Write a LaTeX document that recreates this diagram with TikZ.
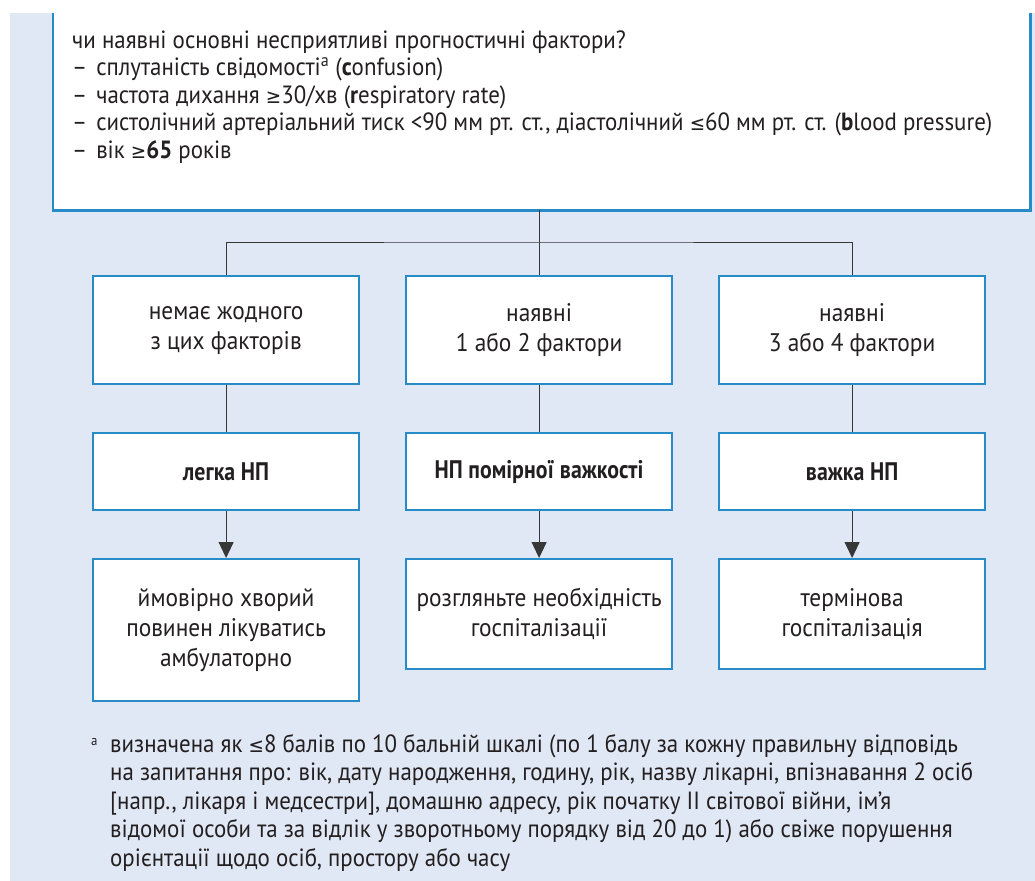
\documentclass[tikz,border=0pt]{standalone}
\usepackage{fontspec}
\setmainfont{PT Sans}[FakeStretch=0.92]
\newfontfamily\bbx{PT Sans}[FakeStretch=0.86]
\newfontfamily\symf{DejaVu Sans}[FakeStretch=0.92]
\usetikzlibrary{arrows.meta}
\definecolor{panelc}{RGB}{225,232,245}
\definecolor{bordc}{RGB}{38,139,199}
\definecolor{txt}{RGB}{35,31,32}
\definecolor{linec}{RGB}{55,55,55}
\newcommand{\mainf}{\fontsize{25}{27}\selectfont}
\newcommand{\boxf}{\fontsize{25.5}{30}\selectfont}
\newcommand{\mge}{{\symf\fontsize{20}{20}\selectfont ≥}}
\newcommand{\mle}{{\symf\fontsize{20}{20}\selectfont ≤}}
\tikzset{
  x=1bp, y=-1bp,
  box/.style={draw=bordc, line width=2.2bp, fill=white, minimum width=266bp,
    inner sep=0pt, align=center, font=\boxf, text=txt, anchor=north west},
  boldbox/.style={box, font=\boxf\bbx\bfseries},
  conn/.style={draw=linec, line width=1bp},
  arr/.style={conn, -{Triangle[width=15bp,length=16bp]}},
  lbl/.style={anchor=base west, inner sep=0pt, font=\mainf, text=txt},
}
\begin{document}
\begin{tikzpicture}
\useasboundingbox (0,0) rectangle (1035,881);
\fill[panelc] (10,13) rectangle (1035,881);
% top question box (open at the top)
\node[fill=white, inner sep=0pt, minimum width=977bp, minimum height=197bp, anchor=north west] (top) at (53,13) {};
\draw[draw=bordc, line width=2.2bp] (top.north west) -- (top.south west) -- (top.south east) -- (top.north east);
\node[lbl] (q1) at (72,48) {чи наявні основні несприятливі прогностичні фактори?};
\node[lbl] (q2) at (72,75.5) {–\hspace{9bp}сплутаність свідомості\textsuperscript{a} (\textbf{c}onfusion)};
\node[lbl] (q3) at (72,103) {–\hspace{9bp}частота дихання \mge30/хв (\textbf{r}espiratory rate)};
\node[lbl] (q4) at (72,130.5) {–\hspace{9bp}систолічний артеріальний тиск <90 мм рт. ст., діастолічний \mle60 мм рт. ст. (\textbf{b}lood pressure)};
\node[lbl] (q5) at (72,158) {–\hspace{9bp}вік \mge\textbf{65} років};
% row 1
\node[box, minimum height=108bp] (r1a) at (92,275) {немає жодного\\з цих факторів};
\node[box, minimum height=108bp] (r1b) at (405,275) {наявні\\1 або 2 фактори};
\node[box, minimum height=108bp] (r1c) at (718,275) {наявні\\3 або 4 фактори};
% row 2
\node[boldbox, minimum height=77bp] (r2a) at (92,432) {легка НП};
\node[boldbox, minimum height=77bp] (r2b) at (405,432) {НП помірної важкості};
\node[boldbox, minimum height=77bp] (r2c) at (718,432) {важка НП};
% row 3
\node[box, minimum height=142bp] (r3a) at (92,558) {ймовірно хворий\\повинен лікуватись\\амбулаторно};
\node[box, minimum height=110bp] (r3b) at (405,558) {розгляньте необхідність\\госпіталізації};
\node[box, minimum height=110bp] (r3c) at (718,558) {термінова\\госпіталізація};
% connectors
\coordinate (bar) at (538,242);
\draw[conn] (top.south -| r1b.north) -- (r1b.north);
\draw[conn] (r1a.north) |- (bar) -| (r1c.north);
\draw[conn] (r1a.south) -- (r2a.north);
\draw[conn] (r1b.south) -- (r2b.north);
\draw[conn] (r1c.south) -- (r2c.north);
\draw[arr] (r2a.south) -- (r3a.north);
\draw[arr] (r2b.south) -- (r3b.north);
\draw[arr] (r2c.south) -- (r3c.north);
% footnote
\node[lbl, font=\fontsize{14}{14}\selectfont] (fa) at (91,745) {a};
\node[lbl] (f1) at (110,752) {визначена як \mle8 балів по 10 бальній шкалі (по 1 балу за кожну правильну відповідь};
\node[lbl] (f2) at (110,780.5) {на запитання про: вік, дату народження, годину, рік, назву лікарні, впізнавання 2 осіб};
\node[lbl] (f3) at (110,809) {[напр., лікаря і медсестри], домашню адресу, рік початку II світової війни, ім'я};
\node[lbl] (f4) at (110,837.5) {відомої особи та за відлік у зворотньому порядку від 20 до 1) або свіже порушення};
\node[lbl] (f5) at (110,866) {орієнтації щодо осіб, простору або часу};
\end{tikzpicture}
\end{document}
